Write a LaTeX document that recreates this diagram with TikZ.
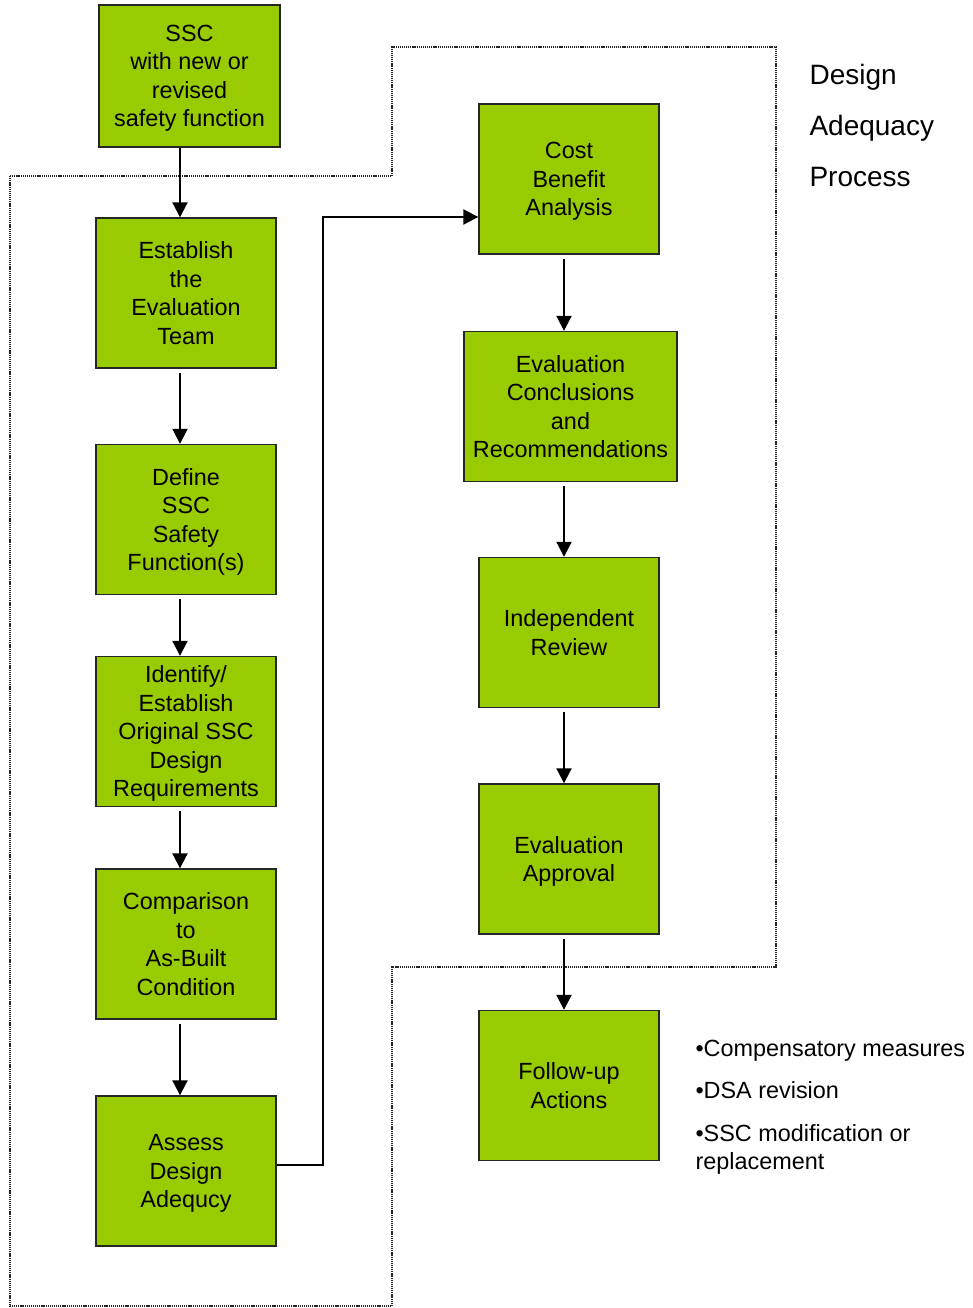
\documentclass[tikz,border=0pt]{standalone}
\usepackage{fontspec}
\setmainfont{Liberation Sans}
\usetikzlibrary{arrows.meta,positioning}
\definecolor{boxgreen}{HTML}{99CC00}

\begin{document}
\begin{tikzpicture}[
    x=1pt, y=-1pt,
    stepbox/.style={draw=black!85, line width=1.4pt, fill=boxgreen, minimum width=180pt, minimum height=150pt, inner sep=0pt, text depth=0pt, align=center, font=\fontsize{23.4}{28.5}\selectfont},
    arrow/.style={-{Triangle[length=15pt, width=15pt]}, line width=2pt},
    outline/.style={line width=2pt, black!85, dash pattern=on 1.2pt off 0.9pt},
    note/.style={anchor=west, align=left}
]
\useasboundingbox (0,0) rectangle (972,1308);

% Dotted frame
\draw[outline] (10,176) -- (392,176) -- (392,47) -- (776,47) -- (776,967) -- (392,967) -- (392,1306) -- (10,1306) -- cycle;

% Left column
\node[stepbox, minimum width=181pt, minimum height=142pt] (ssc) at (189.5,76) {SSC\\with new or\\revised\\safety function};
\node[stepbox] (team) at (186,293) {Establish\\the\\Evaluation\\Team};
\node[stepbox] (define) at (186,519.5) {Define\\SSC\\Safety\\Function(s)};
\node[stepbox] (identify) at (186,731.5) {Identify/\\Establish\\Original SSC\\Design\\Requirements};
\node[stepbox] (compare) at (186,944) {Comparison\\to\\As-Built\\Condition};
\node[stepbox] (assess) at (186,1171) {Assess\\Design\\Adequcy};

% Right column
\node[stepbox] (cost) at (569,179) {Cost\\Benefit\\Analysis};
\node[stepbox, minimum width=213pt] (concl) at (570.5,406.5) {Evaluation\\Conclusions\\and\\Recommendations};
\node[stepbox] (review) at (569,632.5) {Independent\\Review};
\node[stepbox] (approve) at (569,859) {Evaluation\\Approval};
\node[stepbox] (follow) at (569,1085.5) {Follow-up\\Actions};

% Side texts
\node[note, font=\fontsize{28}{51}\selectfont] (title) at (806,125) {Design\\Adequacy\\Process};
\node[note, font=\fontsize{23.4}{28.5}\selectfont] (actions) at (692,1107) {•Compensatory measures\\[14pt]•DSA revision\\[14pt]•SSC modification or\\replacement};

% Arrows
\coordinate (lx) at ([xshift=-6pt]team.north);
\draw[arrow] (ssc.south -| lx) -- (lx);
\draw[arrow, shorten <=4pt] ([xshift=-6pt]team.south) -- ([xshift=-6pt]define.north);
\draw[arrow, shorten <=4pt] ([xshift=-6pt]define.south) -- ([xshift=-6pt]identify.north);
\draw[arrow, shorten <=4pt] ([xshift=-6pt]identify.south) -- ([xshift=-6pt]compare.north);
\draw[arrow, shorten <=4pt] ([xshift=-6pt]compare.south) -- ([xshift=-6pt]assess.north);
\draw[arrow] ([yshift=6pt]assess.east) -- ++(46,0) |- ([yshift=-38pt]cost.west);
\draw[arrow, shorten <=4pt] ([xshift=-5pt]cost.south) -- ([xshift=-5pt]cost.south |- concl.north);
\draw[arrow, shorten <=4pt] ([xshift=-5pt]review.north |- concl.south) -- ([xshift=-5pt]review.north);
\draw[arrow, shorten <=4pt] ([xshift=-5pt]review.south) -- ([xshift=-5pt]approve.north);
\draw[arrow, shorten <=4pt] ([xshift=-5pt]approve.south) -- ([xshift=-5pt]follow.north);

\end{tikzpicture}
\end{document}
